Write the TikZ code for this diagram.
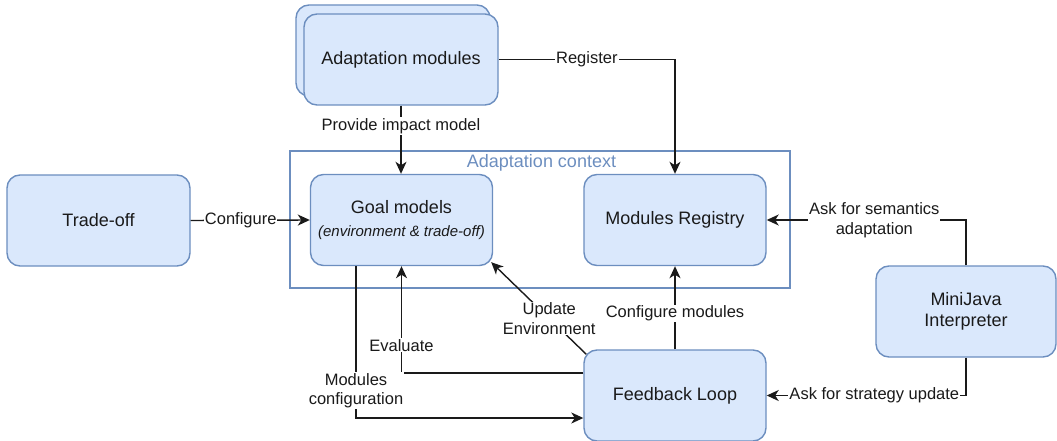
\documentclass[tikz,border=0pt]{standalone}
\usepackage{fontspec}
\setmainfont{Liberation Sans}
\usetikzlibrary{arrows.meta,calc}
\definecolor{boxfill}{HTML}{DAE8FC}
\definecolor{boxline}{HTML}{6C8EBF}
\definecolor{ink}{HTML}{1A1A1A}
\tikzset{
  box/.style={draw=boxline, fill=boxfill, line width=1.4pt, rounded corners=13pt,
    minimum width=182pt, minimum height=91pt, align=center, text=ink,
    font=\fontsize{18}{21.6}\selectfont},
  lbl/.style={fill=white, inner sep=1pt, align=center, text=ink,
    font=\fontsize{16.5}{19.5}\selectfont},
  arr/.style={draw=ink, line width=1.4pt,
    -{Stealth[length=12pt,width=11pt,inset=3.5pt]}},
}
\begin{document}
\begin{tikzpicture}[x=1pt,y=-1pt]
\useasboundingbox (0,0) rectangle (1057,441);

% container for the adaptation context
\draw[draw=boxline, line width=1.4pt] (290,151) rectangle (790,288);
\node[text=boxline, font=\fontsize{18}{21.6}\selectfont] (ctxtitle) at (541.5,163) {Adaptation context};

% adaptation modules (stacked)
\node[box, minimum width=194pt] (amback) at (393,50.5) {};
\node[box, minimum width=194pt] (am) at (401,59.5) {Adaptation modules};

\node[box] (gm) at (401.5,220) {Goal models\\[1pt]{\fontsize{15}{18}\selectfont\itshape (environment \& trade-off)}};
\node[box] (mr) at (675,220) {Modules Registry};
\node[box, minimum width=183pt] (to) at (98.5,220.5) {Trade-off};
\node[box, minimum width=180pt] (mj) at (966,311.5) {MiniJava\\Interpreter};
\node[box] (fl) at (675,395.5) {Feedback Loop};

% connectors
\draw[arr] (am.south) -- node[lbl, pos=0.3] {Provide impact model} (am.south |- gm.north);
\draw[arr] (am.east) -| node[lbl, pos=0.25] {Register} (mr.north);
\draw[arr] (to.east) -- node[lbl, pos=0.42] {Configure} (gm.west);
\draw[arr] (mj.north) |- node[lbl, pos=0.73] {Ask for semantics\\adaptation} (mr.east);
\draw[arr] (mj.south) |- node[lbl, pos=0.73] {Ask for strategy update} (fl.east);
\draw[arr] (fl.north) -- node[lbl, pos=0.43] {Configure modules} (mr.south);
\draw[arr] ([yshift=22.5pt]fl.west) -| node[lbl, pos=0.63] {Evaluate} (gm.south);
\draw[arr] ($(fl.north west)+(3,5)$) -- node[lbl, pos=0.39] {Update\\Environment} ($(gm.south east)+(-2,-4)$);
\draw[arr] ($(gm.south)+(-45.5,0)$) |- node[lbl, pos=0.41] {Modules\\configuration} ([yshift=-22.5pt]fl.west);
\end{tikzpicture}
\end{document}
